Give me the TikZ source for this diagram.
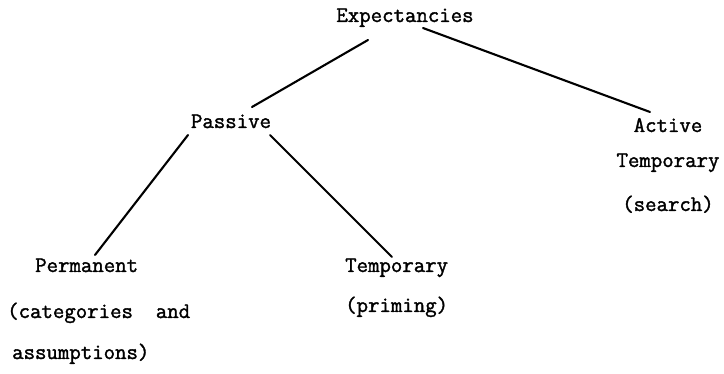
\documentclass[tikz,border=0pt]{standalone}
\usepackage{fontspec}
\newfontfamily\typewriter{Latin Modern Mono}[FakeBold=1.6]
\begin{document}
\begin{tikzpicture}[x=1pt,y=-1pt,
  label/.style={inner sep=0pt,font=\typewriter\fontsize{22.2}{26}\selectfont},
  branch/.style={line width=2.1pt,line cap=round}]
\useasboundingbox (0,0) rectangle (724,374);

% tree labels, placed by baseline
\node[label,anchor=base] (expect) at (405,22) {Expectancies};
\node[label,anchor=base] (passive) at (231,128) {Passive};
\node[label,anchor=base] (active) at (668,132) {Active};
\node[label,anchor=base] (activeTemp) at (668,167) {Temporary};
\node[label,anchor=base] (search) at (668,211) {(search)};
\node[label,anchor=base west] (perm) at (35,272) {Permanent};
\node[label,anchor=base west] (categ) at (7,318) {(categories\ \ and};
\node[label,anchor=base west] (assum) at (12,359) {assumptions)};
\node[label,anchor=base west] (temp) at (345,272) {Temporary};
\node[label,anchor=base west] (priming) at (345,312) {(priming)};

% branches
\draw[branch] ([shift={(-37,18)}]expect.base) -- ([shift={(21,-21)}]passive.base);
\draw[branch] ([shift={(18,6)}]expect.base) -- ([shift={(-18,-20)}]active.base);
\draw[branch] ([shift={(-43,7)}]passive.base) -- ([shift={(60,-17)}]perm.base west);
\draw[branch] ([shift={(39,7)}]passive.base) -- ([shift={(47,-15)}]temp.base west);
\end{tikzpicture}
\end{document}
